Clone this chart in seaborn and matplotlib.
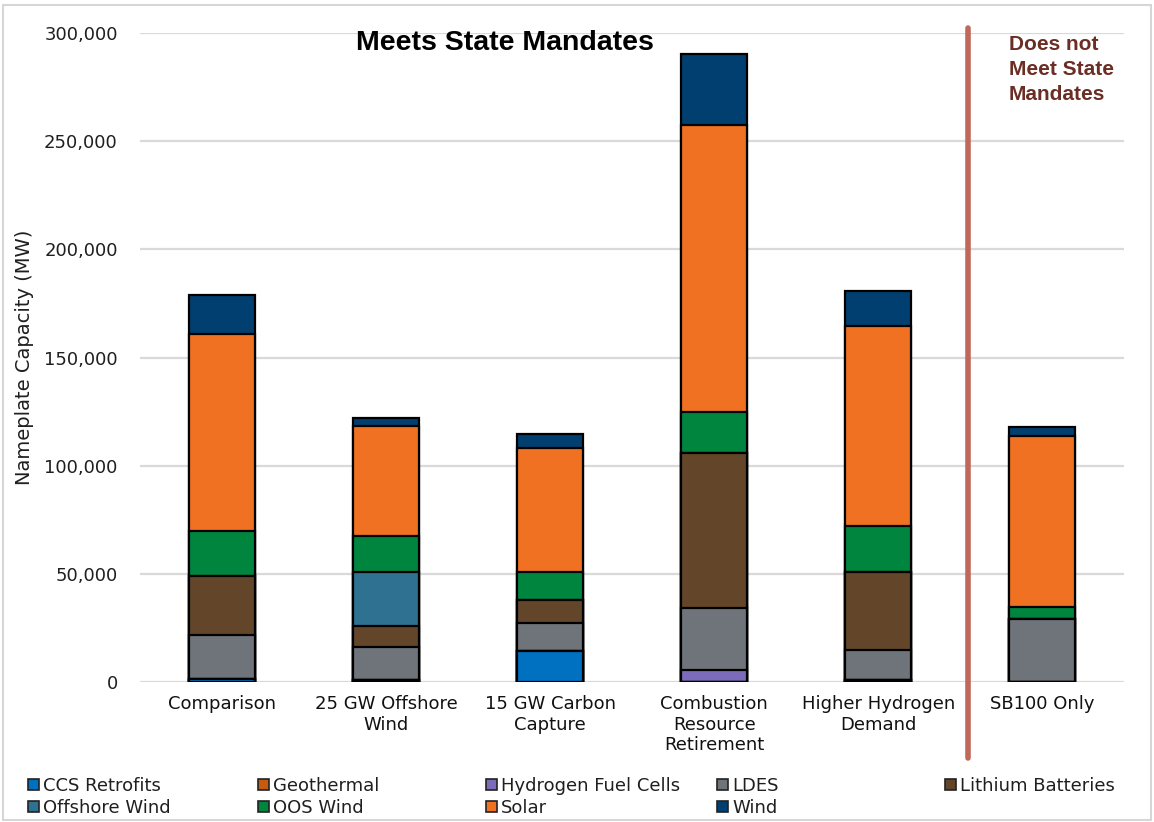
import matplotlib
matplotlib.use("Agg")
import matplotlib.pyplot as plt
import matplotlib.patches as mpatches
from matplotlib.lines import Line2D
from matplotlib.ticker import FuncFormatter
import numpy as np
import seaborn as sns

# Scenarios on the x axis
scenarios = [
    "Comparison",
    "25 GW Offshore\nWind",
    "15 GW Carbon\nCapture",
    "Combustion\nResource\nRetirement",
    "Higher Hydrogen\nDemand",
    "SB100 Only",
]

# Nameplate capacity by resource (MW), stacked bottom to top
ccs_retrofits      = [1400, 1200, 14300, 0, 1000, 0]
geothermal         = [0, 0, 0, 0, 0, 0]
hydrogen_fuelcells = [0, 0, 0, 5700, 0, 0]
ldes               = [20300, 15200, 13000, 28500, 13900, 29100]
lithium_batteries  = [27500, 9600, 10600, 71900, 35900, 0]
offshore_wind      = [0, 24800, 0, 0, 0, 0]
oos_wind           = [20800, 16800, 12900, 18800, 21500, 5500]
solar              = [90700, 50900, 57300, 132800, 92300, 79300]
wind               = [18200, 3600, 6400, 32500, 16100, 3900]

resources = ["CCS Retrofits", "Geothermal", "Hydrogen Fuel Cells", "LDES",
             "Lithium Batteries", "Offshore Wind", "OOS Wind", "Solar", "Wind"]
series = [ccs_retrofits, geothermal, hydrogen_fuelcells, ldes, lithium_batteries,
          offshore_wind, oos_wind, solar, wind]
colors = ["#0070c0", "#c55a11", "#7b6bb8", "#6f747b", "#634629",
          "#2e7191", "#00853f", "#f07122", "#003f6f"]

y_ticks = [0, 50000, 100000, 150000, 200000, 250000, 300000]

sns.set_theme(style="white")
plt.rcParams["font.family"] = ["DejaVu Sans"]

fig = plt.figure(figsize=(11.54, 8.22), dpi=100)
ax = fig.add_axes([0.1213, 0.1700, 0.8530, 0.7899])

# Stacked bars: draw cumulative totals from the top layer down
cumulative = np.cumsum(np.array(series, dtype=float), axis=0)
for i in range(len(series) - 1, -1, -1):
    sns.barplot(x=scenarios, y=cumulative[i], color=colors[i], saturation=1,
                width=0.4, edgecolor="black", linewidth=1.6, errorbar=None,
                ax=ax, zorder=3)

ax.set_ylim(0, 300000)
ax.set_xlim(-0.5, 5.5)
ax.set_yticks(y_ticks)
ax.yaxis.set_major_formatter(FuncFormatter(lambda v, _: f"{int(v):,}"))
ax.grid(axis="y", color="#d9d9d9", linewidth=1.6, zorder=0)
ax.grid(axis="x", visible=False)
for s in ax.spines.values():
    s.set_visible(False)
ax.tick_params(axis="y", length=0, pad=16, labelsize=13, labelcolor="#1f1f1f")
ax.tick_params(axis="x", length=0, pad=9, labelsize=13, labelcolor="#111111")
ax.set_xlabel("")
ax.set_ylabel("Nameplate Capacity (MW)", fontsize=14, color="#1f1f1f")
ax.yaxis.set_label_coords(-0.108, 0.5)

# Divider between scenarios that meet and do not meet the mandates
divider = Line2D([4.544, 4.544], [302500, -35000], color="#c0685a",
                 linewidth=4, clip_on=False, zorder=4)
ax.add_line(divider)

fig.text(505 / 1154, 1 - 43 / 822, "Meets State Mandates", ha="center",
         va="center", fontsize=20.5, fontweight="bold", family="Liberation Sans",
         color="black")
fig.text(1009 / 1154, 1 - 35 / 822, "Does not\nMeet State\nMandates",
         ha="left", va="top", fontsize=15, fontweight="bold",
         family="Liberation Sans", color="#6b2e25", linespacing=1.4)

# Legend laid out as five columns across the bottom
handles = [mpatches.Patch(facecolor=c, edgecolor="#222222", linewidth=1.2)
           for c in colors]
columns = [[0, 5], [1, 6], [2, 7], [3, 8], [4]]
col_x = [28, 258, 486, 717, 945]
for xpix, idx in zip(col_x, columns):
    fig.legend([handles[k] for k in idx], [resources[k] for k in idx],
               loc="upper left", bbox_to_anchor=(xpix / 1154, 1 - 777 / 822),
               frameon=False, fontsize=13, handlelength=0.6, handleheight=0.6,
               handletextpad=0.25, labelspacing=0.2, borderpad=0,
               borderaxespad=0, labelcolor="#1f1f1f")

# Light frame around the figure
fig.patches.append(mpatches.Rectangle((0.003, 0.003), 0.994, 0.991,
                                      transform=fig.transFigure, fill=False,
                                      edgecolor="#d6d6d6", linewidth=1.5))

fig.savefig("out.png", dpi=100)
